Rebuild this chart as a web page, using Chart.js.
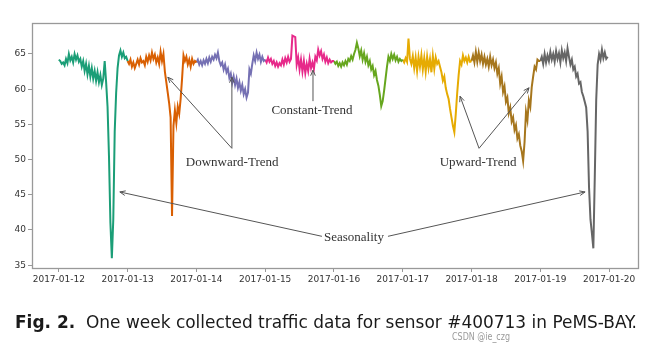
<!DOCTYPE html>
<html>
<head>
<meta charset="utf-8">
<script src="https://cdn.jsdelivr.net/npm/chart.js@4"></script>
<style>
  html, body { margin: 0; padding: 0; background: #fff; }
  canvas { display: block; }
</style>
</head>
<body>
<canvas id="chart" width="663" height="360"></canvas>
<script>
// speed readings, one value every 30 min, one array per day
const jan12 = [64.2,64.0,63.6,63.8,63.4,64.3,63.7,65.0,64.1,64.6,63.8,65.0,64.2,64.8,63.9,64.3,63.2,64.0,62.6,63.6,62.1,63.3,61.8,63.0,
  61.5,62.6,61.2,62.4,61.0,62.0,60.6,61.5,64.0,61.0,57.5,50.5,41.0,36.0,41.5,54.0,59.5,63.0,64.8,65.5,64.6,65.2,64.4,64.6];
const jan13 = [64.0,63.6,64.2,63.2,63.8,63.0,63.6,64.2,63.5,64.4,63.8,64.0,63.4,64.6,63.9,64.8,64.1,65.2,64.3,64.9,63.8,64.5,63.6,65.3,
  64.0,65.0,62.5,61.0,59.5,58.0,56.0,42.0,54.8,57.0,55.2,57.5,56.5,58.6,61.5,64.8,64.0,64.6,63.5,64.2,63.2,64.3,63.6,64.0];
const jan14 = [63.8,64.2,63.5,64.0,63.4,64.1,63.6,64.3,63.7,64.5,63.9,64.6,64.2,64.9,64.4,65.2,64.0,63.4,63.8,62.8,63.5,62.4,62.9,61.6,
  62.2,60.9,61.8,60.6,61.5,60.2,61.0,59.8,60.6,59.3,60.0,58.8,59.5,62.8,62.2,63.6,64.8,64.0,65.2,64.3,64.9,63.9,64.6,64.0];
const jan15 = [64.2,63.8,64.5,63.9,64.3,63.6,64.0,63.3,63.8,63.2,63.7,63.4,64.2,63.5,64.4,63.8,64.6,63.9,64.3,67.6,67.5,67.4,63.5,64.5,
  62.8,64.2,62.5,64.0,62.3,63.6,62.6,64.3,63.0,63.8,62.9,64.6,64.1,65.6,64.8,65.4,64.3,64.9,63.9,64.5,63.7,64.2,63.8,64.0];
const jan16 = [64.0,63.6,63.9,63.3,63.7,63.2,63.8,63.4,64.0,63.5,64.3,64.0,64.7,64.2,65.0,65.6,66.6,65.8,64.7,65.5,64.2,65.1,63.9,64.6,
  63.4,64.0,62.8,63.3,62.0,62.6,61.3,60.5,59.2,57.6,58.3,59.8,61.5,63.2,64.6,64.0,65.0,64.3,64.9,64.1,64.6,63.9,64.3,64.0];
const jan17 = [64.2,63.8,64.4,63.9,67.2,64.3,63.6,64.7,63.0,64.5,62.6,64.6,63.2,64.8,62.8,64.4,62.5,64.6,63.0,64.3,62.4,64.7,62.9,64.5,
  63.6,64.0,63.2,62.4,61.2,61.8,60.2,59.3,58.6,57.2,56.0,54.8,53.9,56.5,59.5,62.0,64.0,63.5,64.8,64.0,64.5,63.8,64.6,63.9];
const jan18 = [64.0,64.8,63.8,65.3,63.9,65.2,64.0,64.9,63.6,64.6,63.5,64.3,63.2,64.6,63.4,64.2,63.0,63.8,62.2,63.0,60.8,61.8,59.6,60.4,
  58.2,58.8,56.6,57.4,55.4,56.0,54.2,54.9,53.0,53.6,52.0,51.2,49.8,52.5,56.8,55.6,58.4,57.5,60.3,61.8,63.2,62.8,64.2,64.0];
const jan19 = [64.0,64.6,63.6,65.0,63.8,64.8,64.0,65.3,64.2,65.0,63.9,65.4,64.3,65.1,63.8,65.5,64.4,65.2,64.0,65.8,64.6,63.5,64.2,62.8,
  63.2,61.8,62.2,60.8,61.0,59.6,59.0,58.2,57.4,54.0,46.0,41.5,39.5,37.4,47.5,58.5,63.5,65.0,64.2,65.6,64.4,65.2,64.3,64.6];

const days = [jan12, jan13, jan14, jan15, jan16, jan17, jan18, jan19];
const dayColors = ['#1b9e77','#d95f02','#7570b3','#e7298a','#66a61e','#e6ab02','#a6761d','#666666'];
const xTickLabels = ['2017-01-12','2017-01-13','2017-01-14','2017-01-15','2017-01-16','2017-01-17','2017-01-18','2017-01-19','2017-01-20'];
const yTicks = [35, 40, 45, 50, 55, 60, 65];

// annotations in data units: [day, value]
const notes = [
  {text: 'Downward-Trend', at: [2.52, 49.6], tail: [2.516, 51.6], heads: [[1.585, 61.7], [2.516, 61.7]]},
  {text: 'Constant-Trend', at: [3.68, 56.9], tail: [3.695, 58.3], heads: [[3.695, 62.7]]},
  {text: 'Upward-Trend', at: [6.095, 49.6], tail: [6.109, 51.6], heads: [[5.833, 59.0], [6.836, 60.2]]},
  {text: 'Seasonality', at: [4.29, 38.95], tails: [[3.825, 39.1], [4.785, 39.1]], heads: [[0.887, 45.4], [7.651, 45.4]]}
];

const datasets = days.map((vals, d) => {
  const pts = vals.map((v, i) => ({x: d + i / vals.length, y: v}));
  if (d + 1 < days.length) pts.push({x: d + 1, y: days[d + 1][0]});
  return {
    data: pts,
    borderColor: dayColors[d],
    borderWidth: 2,
    pointRadius: 0,
    tension: 0
  };
});

function arrow(ctx, x1, y1, x2, y2) {
  ctx.beginPath();
  ctx.moveTo(x1, y1);
  ctx.lineTo(x2, y2);
  ctx.stroke();
  const a = Math.atan2(y2 - y1, x2 - x1);
  const L = 6, w = 0.4;
  ctx.beginPath();
  ctx.moveTo(x2 - L * Math.cos(a - w), y2 - L * Math.sin(a - w));
  ctx.lineTo(x2, y2);
  ctx.lineTo(x2 - L * Math.cos(a + w), y2 - L * Math.sin(a + w));
  ctx.stroke();
}

const extras = {
  id: 'extras',
  afterDraw(chart) {
    const {ctx, chartArea: ca, scales: {x, y}} = chart;
    ctx.save();
    ctx.strokeStyle = '#999';
    ctx.lineWidth = 1.3;
    ctx.strokeRect(Math.round(ca.left) + 0.5, Math.round(ca.top) + 0.5,
      Math.round(ca.right - ca.left), Math.round(ca.bottom - ca.top));

    ctx.strokeStyle = '#555';
    ctx.lineWidth = 1;
    ctx.fillStyle = '#333';
    ctx.font = '13px "Liberation Serif", "DejaVu Serif", serif';
    ctx.textAlign = 'center';
    ctx.textBaseline = 'middle';
    notes.forEach(n => {
      ctx.fillText(n.text, x.getPixelForValue(n.at[0]), y.getPixelForValue(n.at[1]));
      n.heads.forEach((h, k) => {
        const t = n.tails ? n.tails[k] : n.tail;
        arrow(ctx, x.getPixelForValue(t[0]), y.getPixelForValue(t[1]),
          x.getPixelForValue(h[0]), y.getPixelForValue(h[1]));
      });
    });

    // caption
    const bold = 'Fig. 2.';
    const rest = '  One week collected traffic data for sensor #400713 in PeMS-BAY.';
    const fam = '"DejaVu Sans Condensed", "Liberation Sans Narrow", "Liberation Sans", sans-serif';
    ctx.textAlign = 'left';
    ctx.textBaseline = 'alphabetic';
    ctx.fillStyle = '#1a1a1a';
    ctx.font = 'bold 17px ' + fam;
    const wb = ctx.measureText(bold).width;
    ctx.font = '17px ' + fam;
    const wr = ctx.measureText(rest).width;
    const sc = 622 / (wb + wr);
    ctx.translate(15, 328);
    ctx.scale(sc, 1);
    ctx.font = 'bold 17px ' + fam;
    ctx.fillText(bold, 0, 0);
    ctx.font = '17px ' + fam;
    ctx.fillText(rest, wb, 0);
    ctx.restore();

    ctx.save();
    ctx.fillStyle = '#9a9a9a';
    ctx.font = '11px "DejaVu Sans Condensed", "Liberation Sans", sans-serif';
    const wm = 'CSDN @ie_czg';
    const ww = ctx.measureText(wm).width;
    ctx.translate(452, 340);
    ctx.scale(58 / ww, 1);
    ctx.fillText(wm, 0, 0);
    ctx.restore();
  }
};

new Chart(document.getElementById('chart'), {
  type: 'line',
  data: {datasets},
  options: {
    responsive: false,
    animation: false,
    devicePixelRatio: 1,
    layout: {padding: {top: 23, right: 25, left: 0, bottom: 0}},
    plugins: {legend: {display: false}, tooltip: {enabled: false}},
    scales: {
      x: {
        type: 'linear',
        min: -0.39,
        max: 8.42,
        afterFit: s => { s.height = 92; },
        afterBuildTicks: s => { s.ticks = xTickLabels.map((_, i) => ({value: i})); },
        grid: {drawOnChartArea: false, drawTicks: true, tickLength: 4, color: '#999'},
        border: {display: false},
        ticks: {
          maxRotation: 0,
          autoSkip: false,
          padding: 2,
          color: '#333',
          font: {family: '"DejaVu Sans", sans-serif', size: 9},
          callback: v => xTickLabels[Math.round(v)]
        }
      },
      y: {
        min: 34.6,
        max: 69.4,
        afterFit: s => { s.width = 32; },
        afterBuildTicks: s => { s.ticks = yTicks.map(v => ({value: v})); },
        grid: {drawOnChartArea: false, drawTicks: true, tickLength: 4, color: '#999'},
        border: {display: false},
        ticks: {
          padding: 2,
          color: '#333',
          font: {family: '"DejaVu Sans", sans-serif', size: 9}
        }
      }
    }
  },
  plugins: [extras]
});
</script>
</body>
</html>
